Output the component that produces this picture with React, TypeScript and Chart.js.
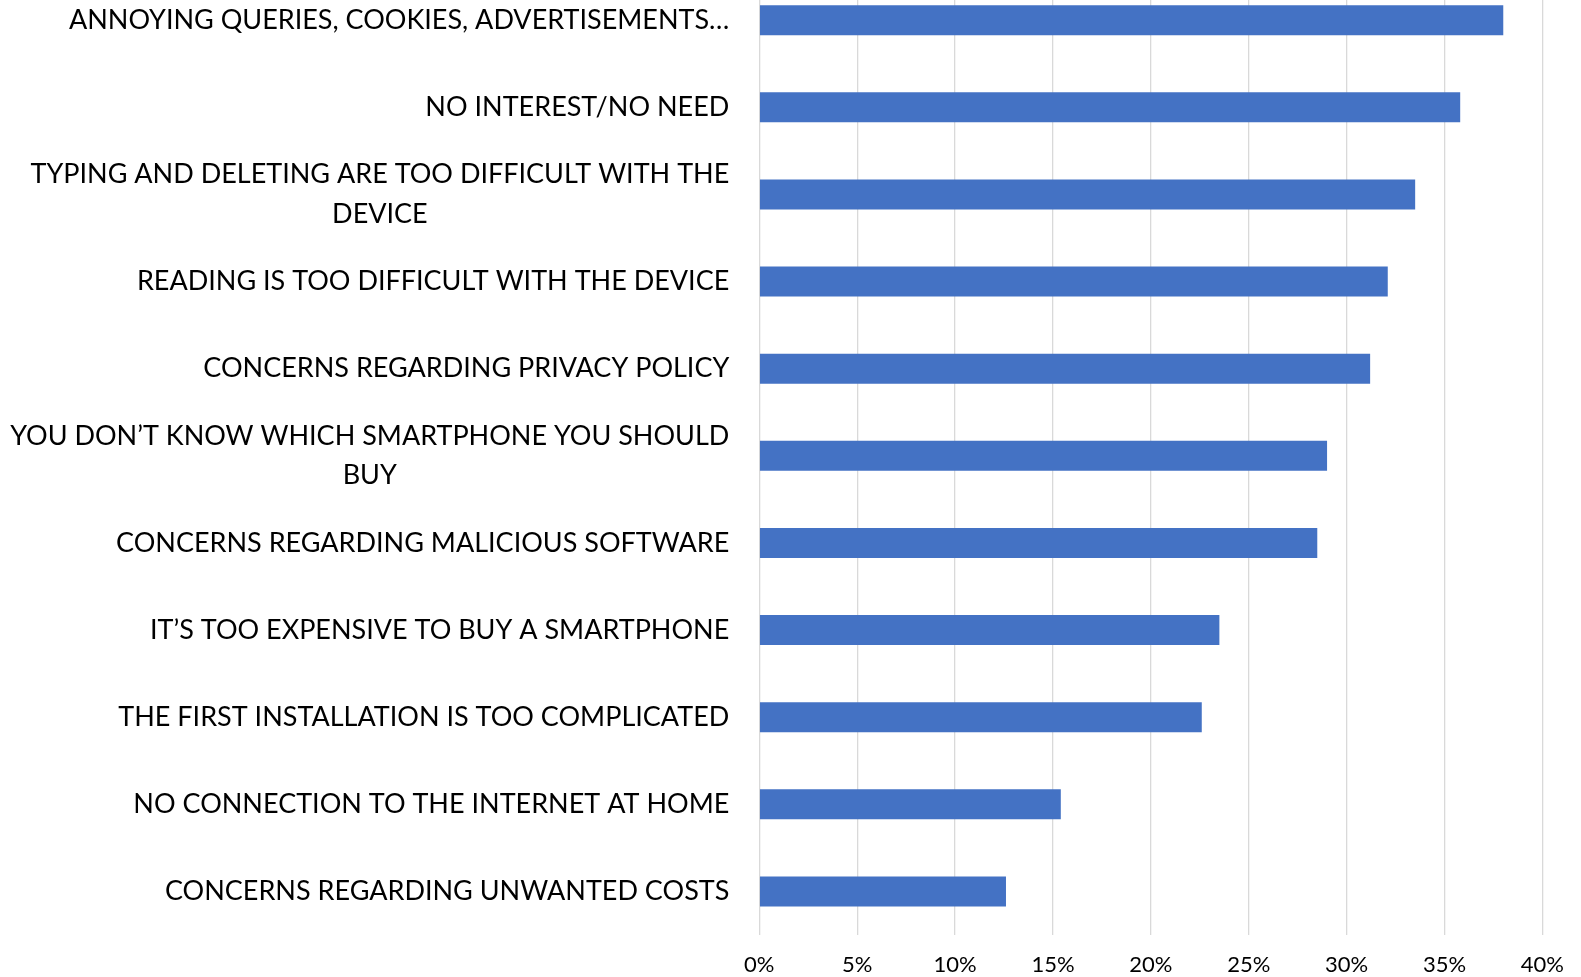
import React, { useEffect, useRef } from 'react';
import { Chart, registerables } from 'chart.js';

Chart.register(...registerables);

const categories: (string | string[])[] = [
  'ANNOYING QUERIES, COOKIES, ADVERTISEMENTS…',
  'NO INTEREST/NO NEED',
  ['TYPING AND DELETING ARE TOO DIFFICULT WITH THE', 'DEVICE'],
  'READING IS TOO DIFFICULT WITH THE DEVICE',
  'CONCERNS REGARDING PRIVACY POLICY',
  ['YOU DON’T KNOW WHICH SMARTPHONE YOU SHOULD', 'BUY'],
  'CONCERNS REGARDING MALICIOUS SOFTWARE',
  'IT’S TOO EXPENSIVE TO BUY A SMARTPHONE',
  'THE FIRST INSTALLATION IS TOO COMPLICATED',
  'NO CONNECTION TO THE INTERNET AT HOME',
  'CONCERNS REGARDING UNWANTED COSTS',
];

const values: number[] = [38.0, 35.8, 33.5, 32.1, 31.2, 29.0, 28.5, 23.5, 22.6, 15.4, 12.6];

const xMin = 0;
const xMax = 40;
const xStep = 5;

const FONT = 'Lato, "Open Sans", sans-serif';
const LABEL_SIZE = 27;
const LABEL_LINE = 39.3;
const LABEL_GAP = 30;

const categoryLabelPlugin = {
  id: 'categoryLabels',
  afterDraw(chart: any) {
    const ys = chart.scales.y;
    const ctx = chart.ctx;
    ctx.save();
    ctx.font = `${LABEL_SIZE}px ${FONT}`;
    ctx.fillStyle = '#000000';
    ctx.textAlign = 'center';
    ctx.textBaseline = 'middle';
    categories.forEach((lab, i) => {
      const yc = ys.getPixelForValue(i);
      const lines = Array.isArray(lab) ? lab : [lab];
      const maxW = Math.max(...lines.map((l) => ctx.measureText(l).width));
      const cx = chart.chartArea.left - LABEL_GAP - maxW / 2;
      lines.forEach((l, j) => {
        ctx.fillText(l, cx, yc + (j - (lines.length - 1) / 2) * LABEL_LINE);
      });
    });
    ctx.restore();
  },
};

export default function App() {
  const ref = useRef<HTMLCanvasElement | null>(null);

  useEffect(() => {
    if (!ref.current) return;
    const chart = new Chart(ref.current, {
      type: 'bar',
      data: {
        labels: categories.map((c) => (Array.isArray(c) ? c.join(' ') : c)),
        datasets: [
          {
            data: values,
            backgroundColor: '#4472C4',
            borderWidth: 0,
            barPercentage: 0.345,
            categoryPercentage: 1,
          },
        ],
      },
      options: {
        indexAxis: 'y',
        animation: false,
        responsive: false,
        devicePixelRatio: 1,
        layout: { padding: { top: 16.6, right: 36.7, left: 0, bottom: 0 } },
        plugins: {
          legend: { display: false },
          tooltip: { enabled: false },
        },
        scales: {
          x: {
            min: xMin,
            max: xMax,
            border: { display: false },
            grid: { color: '#d9d9d9', lineWidth: 1.3, drawTicks: false },
            ticks: {
              stepSize: xStep,
              padding: 17,
              color: '#000000',
              font: { family: FONT, size: 22 },
              callback: (v: any) => `${v}%`,
            },
            afterFit: (s: any) => {
              s.height = 42;
            },
          },
          y: {
            border: { display: false },
            grid: { display: false, drawTicks: false },
            ticks: { display: false },
            afterFit: (s: any) => {
              s.width = 759.3;
            },
          },
        },
      },
      plugins: [categoryLabelPlugin],
    });
    return () => chart.destroy();
  }, []);

  return (
    <div style={{ position: 'absolute', left: 0, top: -40, width: 1581, height: 1017 }}>
      <canvas ref={ref} width={1581} height={1017} style={{ width: 1581, height: 1017, display: 'block' }} />
    </div>
  );
}
